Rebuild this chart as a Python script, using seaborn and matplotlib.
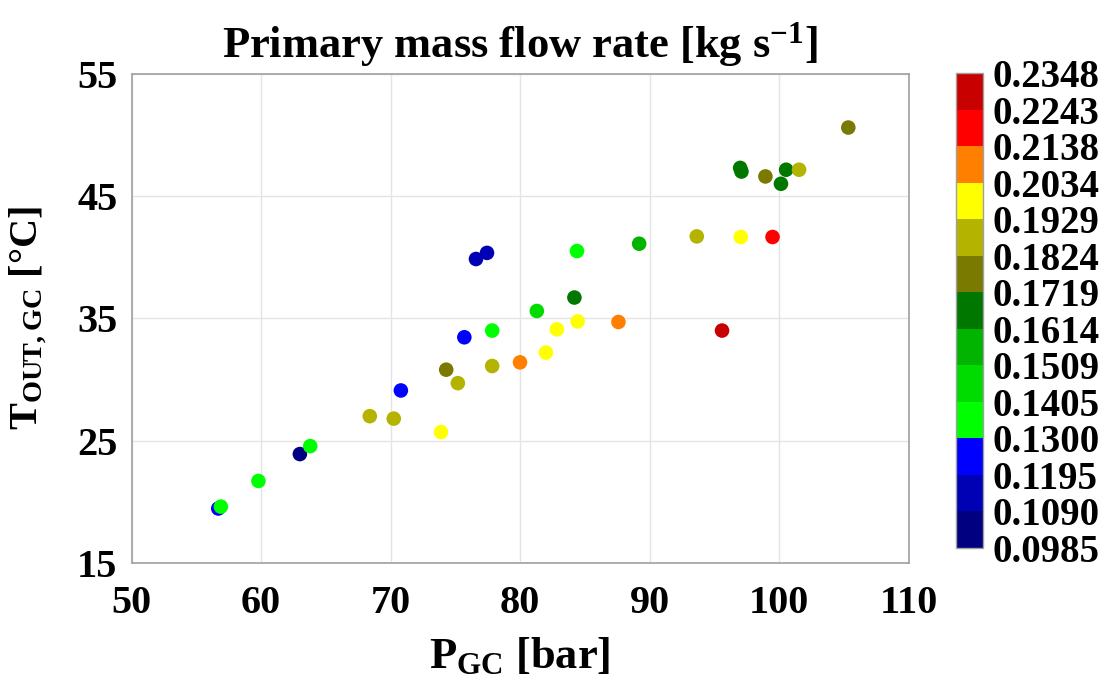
import numpy as np
import pandas as pd
import matplotlib
matplotlib.use("Agg")
import matplotlib.pyplot as plt
from matplotlib.colors import ListedColormap, Normalize
from matplotlib.cm import ScalarMappable
import seaborn as sns

# ---- data ----
p_gc = [56.7, 56.9, 59.8, 63.0, 63.8, 68.4, 70.25, 73.9, 70.8, 74.3, 75.2,
        75.7, 77.85, 77.85, 80.0, 82.0, 82.85, 84.45, 81.3, 84.2, 84.4,
        76.6, 77.45, 89.2, 93.65, 97.05, 99.5, 95.6, 87.6, 97.0, 97.1,
        98.95, 100.55, 100.15, 101.55, 105.35]
t_out = [19.45, 19.6, 21.7, 23.9, 24.55, 27.0, 26.8, 25.7, 29.1, 30.8, 29.7,
         33.45, 34.0, 31.1, 31.4, 32.2, 34.1, 34.75, 35.6, 36.7, 40.5,
         39.85, 40.35, 41.1, 41.7, 41.65, 41.65, 34.0, 34.7, 47.3, 47.0,
         46.6, 47.15, 46.0, 47.15, 50.6]
m_dot = [0.125, 0.135, 0.135, 0.104, 0.135, 0.187, 0.187, 0.198, 0.124, 0.177, 0.187,
         0.125, 0.136, 0.186, 0.209, 0.198, 0.199, 0.197, 0.146, 0.166, 0.137,
         0.114, 0.114, 0.156, 0.188, 0.198, 0.219, 0.229, 0.208, 0.164, 0.164,
         0.177, 0.166, 0.165, 0.187, 0.176]

cbar_ticks = [0.0985, 0.1090, 0.1195, 0.1300, 0.1405, 0.1509, 0.1614,
              0.1719, 0.1824, 0.1929, 0.2034, 0.2138, 0.2243, 0.2348]
bin_colors = ["#000080", "#0000b4", "#0000ff", "#00ff00", "#00dc00", "#00b400",
              "#007800", "#7a7a00", "#b4b400", "#ffff00", "#ff8000", "#ff0000",
              "#c80000"]
x_ticks = [50, 60, 70, 80, 90, 100, 110]
y_ticks = [15, 25, 35, 45, 55]

# ---- style ----
sns.set_theme(style="white")
plt.rcParams["font.family"] = ["Liberation Serif", "DejaVu Serif"]
plt.rcParams["font.weight"] = "bold"
plt.rcParams["text.color"] = "black"
plt.rcParams["axes.labelcolor"] = "black"
plt.rcParams["mathtext.fontset"] = "custom"
plt.rcParams["mathtext.rm"] = "Liberation Serif:bold"
plt.rcParams["mathtext.it"] = "Liberation Serif:bold"
plt.rcParams["mathtext.bf"] = "Liberation Serif:bold"
plt.rcParams["mathtext.default"] = "rm"

cmap = ListedColormap(bin_colors)
norm = Normalize(vmin=cbar_ticks[0], vmax=cbar_ticks[-1])

df = pd.DataFrame({"P": p_gc, "T": t_out, "m": m_dot})

fig = plt.figure(figsize=(11.07, 6.89), dpi=100)
ax = fig.add_axes([0.1188, 0.183, 0.7019, 0.710])
cax = fig.add_axes([0.8636, 0.2047, 0.0244, 0.689])

sns.scatterplot(data=df, x="P", y="T", hue="m", palette=cmap, hue_norm=norm,
                s=110, linewidth=0, legend=False, ax=ax, zorder=3)

ax.set_xlim(50, 110)
ax.set_ylim(15, 55)
ax.set_xticks(x_ticks)
ax.set_yticks(y_ticks)
ax.grid(True, color="#e4e4e4", linewidth=1.0)
ax.set_axisbelow(True)
for sp in ax.spines.values():
    sp.set_color("#a0a0a0")
    sp.set_linewidth(1.2)
ax.tick_params(axis="both", direction="in", length=6, width=1, color="#a0a0a0",
               labelcolor="black", labelsize=29)
ax.tick_params(axis="x", pad=16)
ax.tick_params(axis="y", pad=10)
for lab in ax.get_xticklabels() + ax.get_yticklabels():
    lab.set_fontweight("bold")

ax.set_xlabel(r"$P_{GC}$ [bar]", fontsize=32, fontweight="bold", labelpad=10)
ax.set_ylabel(r"$T_{OUT,GC}$ [°C]", fontsize=29, fontweight="bold", labelpad=20)
ax.set_title(r"Primary mass flow rate [kg s$^{-1}$]", fontsize=32,
             fontweight="bold", pad=12)

cb = fig.colorbar(ScalarMappable(norm=norm, cmap=cmap), cax=cax, ticks=cbar_ticks)
cb.ax.set_yticklabels([f"{v:.4f}" for v in cbar_ticks])
cb.ax.tick_params(labelsize=28, length=0, pad=7, labelcolor="black")
for lab in cb.ax.get_yticklabels():
    lab.set_fontweight("bold")
cb.outline.set_edgecolor("#a0a0a0")
cb.outline.set_linewidth(1)

fig.savefig("out.png", dpi=100)
